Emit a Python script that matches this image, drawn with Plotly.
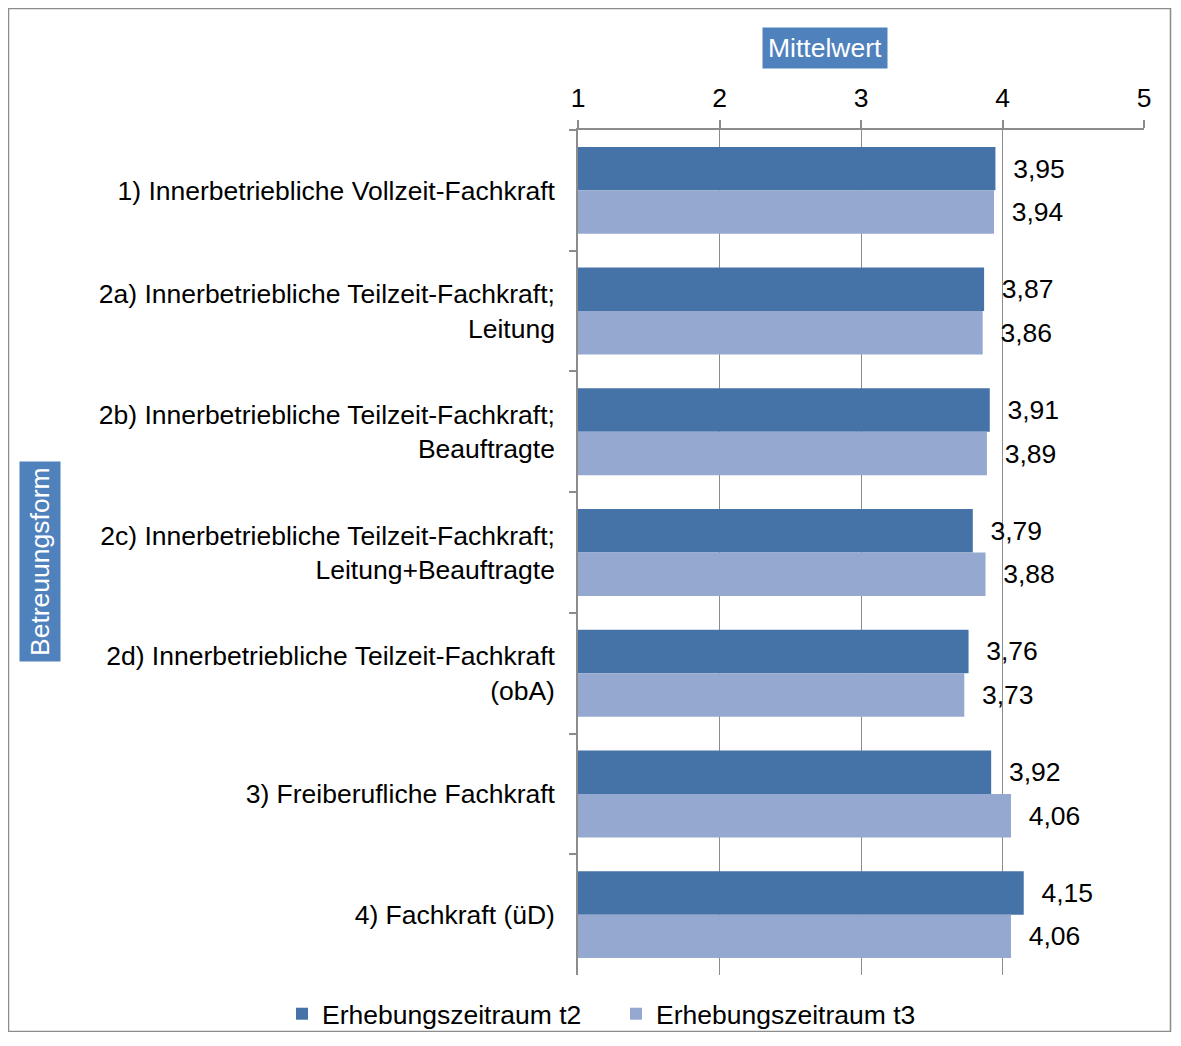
import plotly.graph_objects as go

categories = [
    "1) Innerbetriebliche Vollzeit-Fachkraft",
    "2a) Innerbetriebliche Teilzeit-Fachkraft;<br>Leitung",
    "2b) Innerbetriebliche Teilzeit-Fachkraft;<br>Beauftragte",
    "2c) Innerbetriebliche Teilzeit-Fachkraft;<br>Leitung+Beauftragte",
    "2d) Innerbetriebliche Teilzeit-Fachkraft<br>(obA)",
    "3) Freiberufliche Fachkraft",
    "4) Fachkraft (üD)",
]
t2 = [3.95, 3.87, 3.91, 3.79, 3.76, 3.92, 4.15]
t3 = [3.94, 3.86, 3.89, 3.88, 3.73, 4.06, 4.06]
series_names = ["Erhebungszeitraum t2", "Erhebungszeitraum t3"]
colors = ["#4673A7", "#95A9D0"]
x_ticks = [1, 2, 3, 4, 5]
base_value = 1

FONT = "Liberation Sans, Arial, sans-serif"
FS = 26.5

def fmt(v):
    return "\u00a0\u00a0" + f"{v:.2f}".replace(".", ",")

fig = go.Figure()
for name, vals, col in zip(series_names, [t2, t3], colors):
    fig.add_trace(go.Bar(
        name=name,
        y=categories,
        x=[v - base_value for v in vals],
        base=base_value,
        orientation="h",
        marker=dict(color=col, line=dict(width=0)),
        text=[fmt(v) for v in vals],
        textposition="outside",
        textfont=dict(family=FONT, size=FS, color="black"),
        cliponaxis=False,
        hoverinfo="skip",
    ))

# page body has an 8px margin; work in screen pixels and convert
OFF = 8
W, H = 1181 - OFF, 1046 - 2 * OFF - 6
PL, PR, PT, PB = 578, 1144, 130, 975  # plot area in screen px
L, R, T, B = PL - OFF, W - (PR - OFF), PT - OFF, H - (PB - OFF)
pw, ph = W - L - R, H - T - B

def px_x(p):
    return (p - OFF - L) / pw

def px_y(p):
    return (H - B - (p - OFF)) / ph

fig.update_layout(
    width=W, height=H,
    margin=dict(l=L, r=R, t=T, b=B, autoexpand=False),
    paper_bgcolor="white", plot_bgcolor="white",
    barmode="group", bargap=0.28, bargroupgap=0,
    font=dict(family=FONT, size=FS, color="black"),
    showlegend=True,
    legend=dict(orientation="h", x=px_x(282), y=px_y(1014), xanchor="left", yanchor="middle",
                font=dict(family=FONT, size=FS), entrywidth=289, entrywidthmode="pixels",
                tracegroupgap=0, bgcolor="rgba(0,0,0,0)"),
    xaxis=dict(
        side="top", range=[1, 5], tickvals=x_ticks, ticktext=[str(t) for t in x_ticks],
        showgrid=True, gridcolor="#8c8c8c", gridwidth=1,
        showline=True, linecolor="#8c8c8c", linewidth=1.5,
        ticks="outside", ticklen=8, tickcolor="#8c8c8c", tickwidth=1.5,
        tickfont=dict(family=FONT, size=FS), zeroline=False, fixedrange=True,
        ticklabelstandoff=3,
    ),
    yaxis=dict(
        autorange="reversed", type="category",
        showline=True, linecolor="#8c8c8c", linewidth=1.5,
        ticks="outside", ticklen=7, tickcolor="#8c8c8c", tickwidth=1.5,
        tickson="boundaries", showgrid=False,
        tickfont=dict(family=FONT, size=FS), ticklabelstandoff=16,
    ),
    annotations=[
        dict(text="Mittelwert", xref="paper", yref="paper", x=px_x(825), y=px_y(47.5),
             xanchor="center", yanchor="middle", showarrow=False,
             font=dict(family=FONT, size=FS, color="white"), bgcolor="#4F81BD",
             borderpad=5),
        dict(text="Betreuungsform", xref="paper", yref="paper", x=px_x(40), y=px_y(562),
             xanchor="center", yanchor="middle", showarrow=False, textangle=-90,
             font=dict(family=FONT, size=FS, color="white"), bgcolor="#4F81BD",
             borderpad=5),
    ],
    shapes=[
        dict(type="rect", xref="paper", yref="paper",
             x0=px_x(8.5), x1=px_x(1170.5), y0=px_y(1031.5), y1=px_y(8.5),
             line=dict(color="#8c8c8c", width=1.5), fillcolor="rgba(0,0,0,0)", layer="below"),
    ],
)

fig.write_html("out.html")
